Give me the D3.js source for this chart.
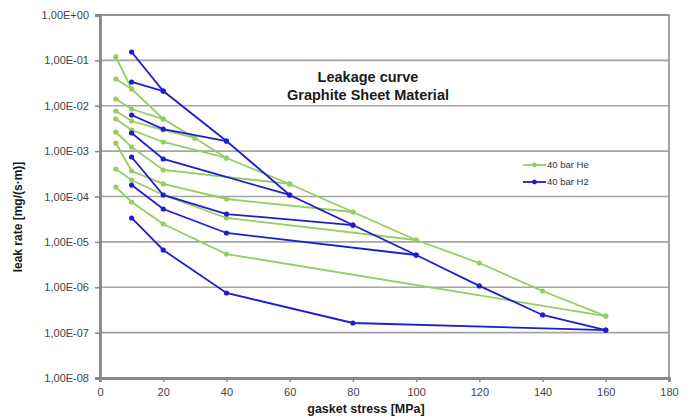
<!DOCTYPE html>
<html>
<head>
<meta charset="utf-8">
<script src="https://cdn.jsdelivr.net/npm/d3@7"></script>
<style>
  body { margin: 0; background: #fff; }
  svg { font-family: "Liberation Sans", Arial, sans-serif; }
</style>
</head>
<body>
<div id="wrapper"></div>
<script>
// gasket stress [MPa] / leak rate [mg/(s*m)]
const heLoading = [[5, 0.119], [10, 0.0234], [20, 0.0051], [30, 1.95e-3], [40, 7.06e-4], [60, 1.89e-4], [80, 4.55e-5], [100, 1.10e-5], [120, 3.42e-6], [140, 8.27e-7], [160, 2.32e-7]]
const heUnload10 = [[10, 0.0234], [5, 0.0389]]
const heUnload20 = [[20, 0.0051], [10, 8.48e-3], [5, 0.0141]]
const heUnload30 = [[30, 1.95e-3], [20, 2.92e-3], [10, 4.61e-3], [5, 7.66e-3]]
const heUnload40 = [[40, 7.06e-4], [20, 1.59e-3], [10, 2.92e-3], [5, 5.1e-3]]
const heUnload60 = [[60, 1.89e-4], [20, 3.84e-4], [10, 1.23e-3], [5, 2.64e-3]]
const heUnload80 = [[80, 4.55e-5], [40, 8.81e-5], [20, 1.89e-4], [10, 3.65e-4], [5, 1.51e-3]]
const heUnload100 = [[100, 1.10e-5], [40, 3.36e-5], [20, 1.08e-4], [10, 2.31e-4], [5, 4.04e-4]]
const heUnload160 = [[160, 2.32e-7], [40, 5.40e-6], [20, 2.48e-5], [10, 7.56e-5], [5, 1.62e-4]]

const h2Loading = [[10, 0.153], [20, 0.0211], [40, 1.67e-3], [60, 1.08e-4], [80, 2.35e-5], [100, 5.14e-6], [120, 1.07e-6], [140, 2.45e-7], [160, 1.14e-7]]
const h2Unload20 = [[20, 0.0211], [10, 0.0334]]
const h2Unload40 = [[40, 1.67e-3], [20, 3.07e-3], [10, 6.25e-3]]
const h2Unload60 = [[60, 1.08e-4], [20, 6.71e-4], [10, 2.51e-3]]
const h2Unload80 = [[80, 2.35e-5], [40, 4.11e-5], [20, 1.08e-4], [10, 7.42e-4]]
const h2Unload100 = [[100, 5.14e-6], [40, 1.57e-5], [20, 5.30e-5], [10, 1.79e-4]]
const h2Unload160 = [[160, 1.14e-7], [80, 1.63e-7], [40, 7.47e-7], [20, 6.62e-6], [10, 3.36e-5]]

const heSeries = [heLoading, heUnload10, heUnload20, heUnload30, heUnload40, heUnload60, heUnload80, heUnload100, heUnload160]
const h2Series = [h2Loading, h2Unload20, h2Unload40, h2Unload60, h2Unload80, h2Unload100, h2Unload160]

const xTicks = [0, 20, 40, 60, 80, 100, 120, 140, 160, 180]
const yTicks = [1, 1e-1, 1e-2, 1e-3, 1e-4, 1e-5, 1e-6, 1e-7, 1e-8]
const titleLines = ["Leakage curve", "Graphite Sheet Material"]
const legendLabels = ["40 bar He", "40 bar H2"]

const heColor = "#96cd62"
const h2Color = "#1e1ecc"

let dimensions = {
  width: 689,
  height: 419,
  margin: { top: 15, right: 20, bottom: 41, left: 100 }
}
dimensions.boundedWidth = dimensions.width - dimensions.margin.left - dimensions.margin.right
dimensions.boundedHeight = dimensions.height - dimensions.margin.top - dimensions.margin.bottom

const xScale = d3.scaleLinear()
  .domain([0, 180])
  .range([0, dimensions.boundedWidth])

const yScale = d3.scaleLog()
  .domain([1e-8, 1])
  .range([dimensions.boundedHeight, 0])

const wrapper = d3.select("#wrapper")
  .append("svg")
    .attr("width", dimensions.width)
    .attr("height", dimensions.height)

const bounds = wrapper.append("g")
  .attr("transform", `translate(${dimensions.margin.left},${dimensions.margin.top})`)

// gridlines
bounds.selectAll(".grid")
  .data(yTicks)
  .enter().append("line")
    .attr("x1", 0)
    .attr("x2", dimensions.boundedWidth)
    .attr("y1", d => yScale(d))
    .attr("y2", d => yScale(d))
    .attr("stroke", "#a4a4a4")
    .attr("stroke-width", 1.6)

// plot frame
bounds.append("rect")
  .attr("width", dimensions.boundedWidth)
  .attr("height", dimensions.boundedHeight)
  .attr("fill", "none")
  .attr("stroke", "#8c8c8c")
  .attr("stroke-width", 1.6)

// axes
const yAxis = d3.axisLeft(yScale)
  .tickValues(yTicks)
  .tickSize(5)
  .tickPadding(6)
  .tickFormat(d => d3.format(".2e")(d).replace(".", ",").replace(/e([+-])(\d)$/, "E$10$2").toUpperCase())

const yAxisGroup = bounds.append("g").call(yAxis)

const xAxis = d3.axisBottom(xScale)
  .tickValues(xTicks)
  .tickSize(4)
  .tickPadding(6)

const xAxisGroup = bounds.append("g")
  .attr("transform", `translate(0,${dimensions.boundedHeight})`)
  .call(xAxis)

;[yAxisGroup, xAxisGroup].forEach(g => {
  g.select(".domain").attr("stroke", "#888").attr("stroke-width", 2.8)
  g.selectAll(".tick line").attr("stroke", "#888").attr("stroke-width", 1.5)
  g.selectAll(".tick text").attr("fill", "#444").style("font-size", "11px")
})

// series
const lineGen = d3.line()
  .x(d => xScale(d[0]))
  .y(d => yScale(d[1]))

function drawSeries(list, color) {
  list.forEach(series => {
    bounds.append("path")
      .datum(series)
      .attr("d", lineGen)
      .attr("fill", "none")
      .attr("stroke", color)
      .attr("stroke-width", 1.8)
    bounds.append("g").selectAll("circle")
      .data(series)
      .enter().append("circle")
        .attr("cx", d => xScale(d[0]))
        .attr("cy", d => yScale(d[1]))
        .attr("r", 2.6)
        .attr("fill", color)
  })
}
drawSeries(heSeries, heColor)
drawSeries(h2Series, h2Color)

// title
bounds.append("text")
  .attr("text-anchor", "middle")
  .style("font-size", "14.5px")
  .style("font-weight", "bold")
  .attr("fill", "#1a1a1a")
  .selectAll("tspan")
  .data(titleLines)
  .enter().append("tspan")
    .attr("x", 268)
    .attr("y", (d, i) => 67 + i * 18)
    .text(d => d)

// legend
const legend = bounds.append("g")
  .attr("transform", "translate(423,150)")
const legendItems = legend.selectAll("g")
  .data(legendLabels)
  .enter().append("g")
    .attr("transform", (d, i) => `translate(0,${i * 17})`)
legendItems.append("line")
  .attr("x1", 0).attr("x2", 23)
  .attr("stroke", (d, i) => i === 0 ? heColor : h2Color)
  .attr("stroke-width", 1.8)
legendItems.append("circle")
  .attr("cx", 11.5).attr("r", 2.4)
  .attr("fill", (d, i) => i === 0 ? heColor : h2Color)
legendItems.append("text")
  .attr("x", 24)
  .attr("dy", "0.35em")
  .style("font-size", "9.5px")
  .attr("fill", "#333")
  .text(d => d)

// axis titles
wrapper.append("text")
  .attr("transform", "translate(22,217) rotate(-90)")
  .attr("text-anchor", "middle")
  .style("font-size", "12px")
  .style("font-weight", "bold")
  .attr("fill", "#1a1a1a")
  .text("leak rate [mg/(s·m)]")

wrapper.append("text")
  .attr("x", 366)
  .attr("y", 413)
  .attr("text-anchor", "middle")
  .style("font-size", "12.5px")
  .style("font-weight", "bold")
  .attr("fill", "#1a1a1a")
  .text("gasket stress [MPa]")
</script>
</body>
</html>
